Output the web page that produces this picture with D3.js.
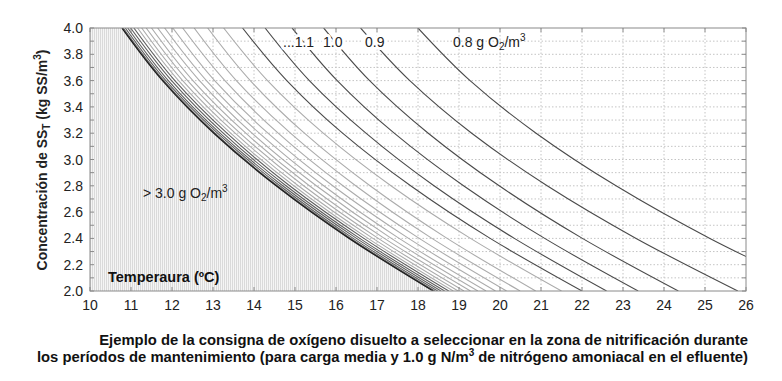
<!DOCTYPE html>
<html><head><meta charset="utf-8">
<script src="https://cdn.jsdelivr.net/npm/d3@7"></script>
<style>
html,body{margin:0;padding:0;background:#fff;}
svg{display:block;font-family:"Liberation Sans",Arial,Helvetica,sans-serif;}
</style></head>
<body>
<svg id="chart" width="782" height="381"></svg>
<script>
// ---- data ----
const xTicks = [10,11,12,13,14,15,16,17,18,19,20,21,22,23,24,25,26];
const yTickLabels = ["2.0","2.2","2.4","2.6","2.8","3.0","3.2","3.4","3.6","3.8","4.0"];
const ssLevels = [4.0, 3.6, 3.2, 2.8, 2.4, 2.0];           // SS_T (kg SS/m3)
const doLevels = [0.8,0.9,1.0,1.1,1.2,1.3,1.4,1.5,1.6,1.7,1.8,1.9,2.0,2.1,2.2,2.3,2.4,2.5,2.6,2.7,2.8,2.9,3.0]; // g O2/m3
// temperature (ºC) of each O2 set-point curve at the SS levels above
const tempAt = [
  [18.00,19.27,20.88,22.83,25.12,27.76],
  [16.60,17.80,19.31,21.15,23.32,25.80],
  [15.70,16.82,18.25,19.98,22.01,24.35],
  [14.93,16.03,17.42,19.11,21.09,23.37],
  [14.27,15.35,16.73,18.39,20.35,22.60],
  [13.72,14.80,16.16,17.82,19.76,22.00],
  [13.26,14.33,15.69,17.34,19.28,21.50],
  [12.87,13.91,15.23,16.83,18.71,20.87],
  [12.54,13.57,14.89,16.48,18.34,20.49],
  [12.26,13.29,14.59,16.17,18.03,20.16],
  [12.02,13.04,14.34,15.92,17.77,19.89],
  [11.82,12.84,14.13,15.70,17.54,19.66],
  [11.65,12.67,13.95,15.52,17.35,19.46],
  [11.50,12.51,13.80,15.35,17.18,19.28],
  [11.37,12.38,13.66,15.21,17.03,19.12],
  [11.26,12.26,13.54,15.08,16.90,18.98],
  [11.16,12.16,13.43,14.97,16.78,18.86],
  [11.07,12.07,13.34,14.87,16.68,18.75],
  [10.99,11.99,13.25,14.78,16.58,18.65],
  [10.92,11.91,13.17,14.70,16.50,18.56],
  [10.86,11.85,13.11,14.63,16.42,18.48],
  [10.81,11.80,13.05,14.57,16.36,18.41],
  [10.78,11.77,13.02,14.54,16.32,18.37]
];
const curveLabels = ["...1.1","1.0","0.9"];
const captionLines = [
  "Ejemplo de la consigna de oxígeno disuelto a seleccionar en la zona de nitrificación durante",
  "los períodos de mantenimiento (para carga media y 1.0 g N/m"
];

// ---- layout ----
const svg = d3.select("#chart");
const L = 90, R = 746, T = 28, B = 291;
const x = d3.scaleLinear().domain([10,26]).range([L,R]);
const y = d3.scaleLinear().domain([2,4]).range([B,T]);

const defs = svg.append("defs");
defs.append("clipPath").attr("id","plotclip").append("rect")
  .attr("x",L).attr("y",T).attr("width",R-L).attr("height",B-T);
const pat = defs.append("pattern").attr("id","vstripe").attr("patternUnits","userSpaceOnUse")
  .attr("width",2).attr("height",4);
pat.append("rect").attr("width",2).attr("height",4).attr("fill","#f5f5f5");
pat.append("rect").attr("width",1).attr("height",4).attr("fill","#dadada");

// grid
const grid = svg.append("g");
const minorY = d3.range(21,40).map(d=>d/10);
grid.selectAll("line.h").data(minorY).join("line")
  .attr("x1",L).attr("x2",R).attr("y1",d=>y(d)).attr("y2",d=>y(d))
  .attr("stroke","#c4c4c4").attr("stroke-width",1).attr("stroke-dasharray","1.5,2");
grid.selectAll("line.v").data(xTicks.slice(1,-1)).join("line")
  .attr("x1",d=>x(d)).attr("x2",d=>x(d)).attr("y1",T).attr("y2",B)
  .attr("stroke","#c4c4c4").attr("stroke-width",1).attr("stroke-dasharray","1.5,2");

// data points (ordered by increasing SS so the curve is monotone in y)
const curves = doLevels.map((o,i)=>({o, pts: ssLevels.map((s,j)=>[tempAt[i][j], s]).reverse()}));
const line = d3.line().x(d=>x(d[0])).y(d=>y(d[1])).curve(d3.curveMonotoneY);

const plot = svg.append("g").attr("clip-path","url(#plotclip)");
// hatched region > 3.0
const boundary = curves[curves.length-1].pts;
plot.append("path")
  .attr("d", line(boundary) + `L${x(10)},${y(4)}L${x(10)},${y(2)}Z`)
  .attr("fill","url(#vstripe)");

function colorFor(o){
  if (o >= 2.95) return "#1a1a1a";
  if (o <= 1.35) return "#4a4a4a";
  if (o >= 2.45) return "#5e5e5e";
  return "#ababab";
}
plot.selectAll("path.c").data(curves).join("path")
  .attr("class","c")
  .attr("d",d=>line(d.pts))
  .attr("fill","none")
  .attr("stroke",d=>colorFor(d.o))
  .attr("stroke-width",d=> d.o>=2.95 ? 1.3 : 1.1);

// frame
svg.append("rect").attr("x",L).attr("y",T).attr("width",R-L).attr("height",B-T)
  .attr("fill","none").attr("stroke","#8a8a8a").attr("stroke-width",1);

// ticks (inward)
const tk = svg.append("g").attr("stroke","#8a8a8a").attr("stroke-width",1);
xTicks.forEach(t=>{
  tk.append("line").attr("x1",x(t)).attr("x2",x(t)).attr("y1",B).attr("y2",B-4);
  tk.append("line").attr("x1",x(t)).attr("x2",x(t)).attr("y1",T).attr("y2",T+4);
});
d3.range(20,41).map(d=>d/10).forEach(v=>{
  tk.append("line").attr("x1",L).attr("x2",L+4).attr("y1",y(v)).attr("y2",y(v));
  tk.append("line").attr("x1",R).attr("x2",R-4).attr("y1",y(v)).attr("y2",y(v));
});

// tick labels
svg.append("g").selectAll("text").data(xTicks).join("text")
  .attr("x",d=>x(d)).attr("y",B+19).attr("text-anchor","middle")
  .attr("font-size",14).attr("fill","#222").text(d=>d);
svg.append("g").selectAll("text").data(yTickLabels).join("text")
  .attr("x",L-7).attr("y",d=>y(+d)+5).attr("text-anchor","end")
  .attr("font-size",14).attr("fill","#222").text(d=>d);

// y axis title
const yt = svg.append("text").attr("transform","translate(47,160) rotate(-90)")
  .attr("text-anchor","middle").attr("font-size",14).attr("font-weight","bold").attr("fill","#222");
yt.append("tspan").text("Concentración de SS");
yt.append("tspan").attr("font-size",10).attr("dy",3).text("T");
yt.append("tspan").attr("dy",-3).text(" (kg SS/m");
yt.append("tspan").attr("font-size",10).attr("dy",-6).text("3");
yt.append("tspan").attr("dy",6).text(")");

// in-plot texts
svg.append("text").attr("x",108).attr("y",282).attr("font-size",14.5).attr("font-weight","bold")
  .attr("fill","#111").text("Temperaura (ºC)");
const t3 = svg.append("text").attr("x",143).attr("y",198).attr("font-size",14).attr("fill","#222");
t3.append("tspan").text("> 3.0 g O");
t3.append("tspan").attr("font-size",10).attr("dy",3).text("2");
t3.append("tspan").attr("dy",-3).text("/m");
t3.append("tspan").attr("font-size",10).attr("dy",-6).text("3");

const labX = [283, 323, 365];
svg.append("g").selectAll("text").data(curveLabels).join("text")
  .attr("x",(d,i)=>labX[i]).attr("y",47).attr("font-size",14).attr("fill","#222")
  .attr("stroke","#fff").attr("stroke-width",6).attr("stroke-linejoin","round").attr("paint-order","stroke")
  .text(d=>d);
const t8 = svg.append("text").attr("x",453).attr("y",47).attr("font-size",14).attr("fill","#222");
t8.append("tspan").text("0.8 g O");
t8.append("tspan").attr("font-size",10).attr("dy",3).text("2");
t8.append("tspan").attr("dy",-3).text("/m");
t8.append("tspan").attr("font-size",10).attr("dy",-6).text("3");

// caption
svg.append("text").attr("x",748).attr("y",345).attr("text-anchor","end")
  .attr("font-size",14.8).attr("font-weight","bold").attr("fill","#111").text(captionLines[0]);
const c2 = svg.append("text").attr("x",748).attr("y",362).attr("text-anchor","end")
  .attr("font-size",14.8).attr("font-weight","bold").attr("fill","#111");
c2.append("tspan").text(captionLines[1]);
c2.append("tspan").attr("font-size",10).attr("dy",-6).text("3");
c2.append("tspan").attr("dy",6).text(" de nitrógeno amoniacal en el efluente)");
</script>
</body></html>
